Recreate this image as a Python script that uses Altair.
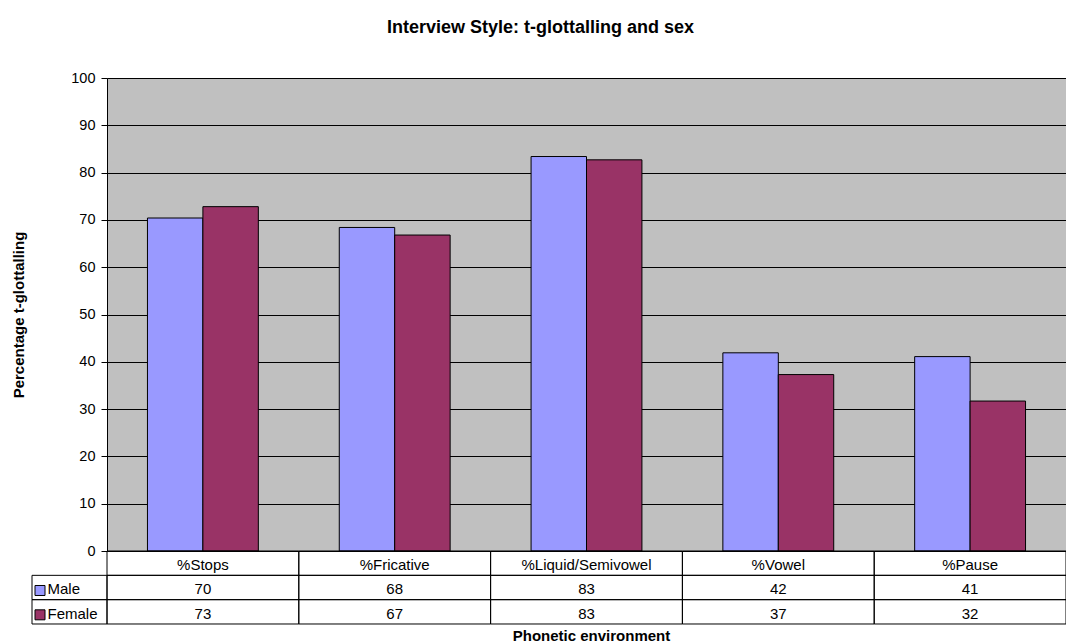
import altair as alt
import pandas as pd

# Phonetic environments and t-glottalling rates (%) by sex
categories = ["%Stops", "%Fricative", "%Liquid/Semivowel", "%Vowel", "%Pause"]
series = ["Male", "Female"]
male = [70.4, 68.4, 83.4, 41.9, 41.1]
female = [72.8, 66.8, 82.7, 37.3, 31.7]
colors = ["#9999FF", "#993366"]
y_ticks = list(range(0, 101, 10))
table_rows = ["header"] + series

FONT = "Liberation Sans"
W, H = 959, 473
ROW = 24.33

long_rows = []
for cat, m, f in zip(categories, male, female):
    long_rows.append({"environment": cat, "sex": "Male", "pct": m})
    long_rows.append({"environment": cat, "sex": "Female", "pct": f})
df = pd.DataFrame(long_rows)

header_df = pd.DataFrame({"environment": categories, "row": ["header"] * len(categories)})
cells_df = pd.DataFrame(
    [{"environment": c, "row": r} for c in categories for r in table_rows]
)
legend_df = pd.DataFrame({"sex": series, "col": ["key"] * len(series)})

x_cat = alt.Scale(domain=categories, paddingInner=0, paddingOuter=0)
y_table = alt.Scale(domain=table_rows, range=[H, H + 3 * ROW], paddingInner=0, paddingOuter=0)
x_key = alt.Scale(domain=["key"], range=[-75, 0], paddingInner=0, paddingOuter=0)
color_scale = alt.Scale(domain=series, range=colors)

bars = alt.Chart(df).mark_bar(stroke="black", strokeWidth=1).encode(
    x=alt.X(
        "environment:N",
        scale=x_cat,
        sort=categories,
        axis=alt.Axis(
            title="Phonetic environment",
            labels=False,
            ticks=False,
            domain=False,
            grid=False,
            titleX=484,
            titleY=89,
            titleBaseline="alphabetic",
            titleFontSize=15,
            titleFontWeight="bold",
            titleFont=FONT,
            titleColor="black",
        ),
    ),
    xOffset=alt.XOffset(
        "sex:N", scale=alt.Scale(domain=series, paddingInner=0, paddingOuter=0.73)
    ),
    y=alt.Y(
        "pct:Q",
        scale=alt.Scale(domain=[0, 100]),
        axis=alt.Axis(
            title="Percentage t-glottalling",
            values=y_ticks,
            grid=True,
            gridColor="black",
            gridWidth=1,
            gridOpacity=1,
            domainColor="black",
            domainWidth=1,
            tickColor="black",
            tickSize=6,
            labelPadding=6,
            labelFontSize=14.5,
            labelFont=FONT,
            labelColor="black",
            titleAngle=270,
            titleX=-84,
            titleY=H / 2,
            titleAlign="center",
            titleBaseline="alphabetic",
            titleFontSize=15,
            titleFontWeight="bold",
            titleFont=FONT,
            titleColor="black",
        ),
    ),
    color=alt.Color("sex:N", scale=color_scale, legend=None),
)

# Data table under the plot: cell borders, category header, rounded values
cells = alt.Chart(cells_df).mark_rect(
    fillOpacity=0, stroke="black", strokeWidth=1
).encode(
    x=alt.X("environment:N", scale=x_cat, sort=categories, axis=None),
    y=alt.Y("row:N", scale=y_table, sort=table_rows, axis=None),
)

header_text = alt.Chart(header_df).mark_text(
    font=FONT, fontSize=15, color="black", baseline="middle", dy=2
).encode(
    x=alt.X("environment:N", scale=x_cat, sort=categories, axis=None),
    y=alt.Y("row:N", scale=y_table, sort=table_rows, axis=None),
    text="environment:N",
)

value_text = alt.Chart(df).mark_text(
    font=FONT, fontSize=15, color="black", baseline="middle", dy=2
).encode(
    x=alt.X("environment:N", scale=x_cat, sort=categories, axis=None),
    y=alt.Y("sex:N", scale=y_table, sort=table_rows, axis=None),
    text=alt.Text("pct:Q", format=".0f"),
)

# Series key column at the left of the table (marks offset from the cell centre)
key_cells = alt.Chart(legend_df).mark_rect(
    fillOpacity=0, stroke="black", strokeWidth=1
).encode(
    x=alt.X("col:N", scale=x_key, axis=None),
    y=alt.Y("sex:N", scale=y_table, sort=table_rows, axis=None),
)

key_swatch = alt.Chart(legend_df).mark_square(
    size=100, stroke="black", strokeWidth=1, opacity=1, xOffset=-29.5, yOffset=3
).encode(
    x=alt.X("col:N", scale=x_key, axis=None),
    y=alt.Y("sex:N", scale=y_table, sort=table_rows, axis=None),
    color=alt.Color("sex:N", scale=color_scale, legend=None),
)

key_text = alt.Chart(legend_df).mark_text(
    font=FONT, fontSize=15, color="black", baseline="middle", align="left", dx=-22, dy=2
).encode(
    x=alt.X("col:N", scale=x_key, axis=None),
    y=alt.Y("sex:N", scale=y_table, sort=table_rows, axis=None),
    text="sex:N",
)

chart = (
    alt.layer(bars, cells, header_text, value_text, key_cells, key_swatch, key_text)
    .resolve_scale(x="independent", y="independent")
    .properties(
        width=W,
        height=H,
        autosize=alt.AutoSizeParams(type="none"),
        padding={"left": 107, "top": 78, "right": 0, "bottom": 92},
        background="white",
        title=alt.TitleParams(
            "Interview Style: t-glottalling and sex",
            font=FONT,
            fontSize=18,
            fontWeight="bold",
            color="black",
            anchor="middle",
            frame="group",
            dx=-46,
            offset=19,
            baseline="alphabetic",
        ),
    )
    .configure_view(fill="#C0C0C0", stroke=None)
)

chart.save("out.html", embed_options={"renderer": "svg", "actions": False})
